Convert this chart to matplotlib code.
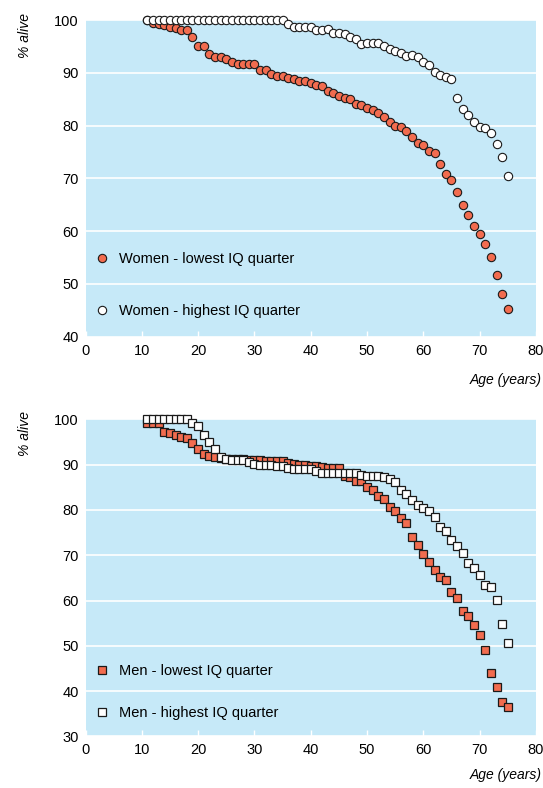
import matplotlib
matplotlib.use("Agg")
import matplotlib.pyplot as plt
import numpy as np

plt.rcParams['font.family'] = ['Liberation Sans Narrow', 'Liberation Sans', 'DejaVu Sans']

# ages 11..75, one point per year
ages = np.arange(11, 76)

women_low = [100, 99.5, 99.3, 99.0, 98.7, 98.4, 98.2, 98.2, 96.8, 95.0,
             95.0, 93.5, 93.0, 93.0, 92.7, 92.0, 91.6, 91.6, 91.7, 91.6,
             90.6, 90.6, 89.7, 89.4, 89.4, 89.1, 88.9, 88.4, 88.4, 88.0,
             87.7, 87.5, 86.6, 86.1, 85.6, 85.3, 85.0, 84.0, 83.9, 83.3,
             82.9, 82.4, 81.6, 80.7, 80.0, 79.8, 79.0, 77.9, 76.7, 76.3,
             75.2, 74.8, 72.8, 70.8, 69.6, 67.5, 64.9, 63.0, 61.0, 59.5,
             57.6, 55.1, 51.7, 48.1, 45.2]

women_high = [100] * 25 + [
             99.2, 98.7, 98.6, 98.6, 98.6, 98.2, 98.2, 98.3, 97.6, 97.6,
             97.3, 96.7, 96.4, 95.5, 95.6, 95.6, 95.7, 95.1, 94.5, 94.1,
             93.8, 93.2, 93.4, 92.9, 92.0, 91.4, 90.2, 89.6, 89.2, 88.8,
             85.2, 83.1, 82.0, 80.7, 79.8, 79.5, 78.5, 76.6, 74.0, 70.4]

men_low = [99.1, 99.1, 99.1, 97.3, 96.9, 96.5, 96.2, 95.8, 94.7, 93.5,
           92.3, 92.0, 91.6, 91.5, 91.3, 91.3, 91.2, 91.2, 91.1, 91.0,
           91.0, 90.9, 90.9, 90.9, 90.9, 90.3, 90.1, 89.9, 89.9, 89.8,
           89.7, 89.4, 89.3, 89.2, 89.2, 87.5, 87.2, 86.5, 86.5, 85.0,
           84.4, 83.1, 82.5, 80.7, 79.8, 78.3, 77.2, 74.1, 72.3, 70.3,
           68.6, 66.8, 65.3, 64.5, 62.0, 60.6, 57.8, 56.5, 54.5, 52.5,
           49.0, 44.1, 41.0, 37.5, 36.5]

men_high = [100, 100, 100, 100, 100, 100, 100, 100, 99.1, 98.5,
            96.6, 94.9, 93.5, 91.8, 91.3, 91.0, 91.0, 91.0, 90.5, 90.2,
            89.9, 89.9, 89.9, 89.6, 89.6, 89.2, 89.0, 89.0, 89.0, 89.0,
            88.5, 88.2, 88.2, 88.2, 88.2, 88.2, 88.2, 88.1, 87.7, 87.6,
            87.6, 87.6, 87.2, 86.8, 86.2, 84.4, 83.5, 82.2, 81.1, 80.4,
            79.8, 78.5, 76.3, 75.4, 73.4, 72.1, 70.4, 68.2, 67.3, 65.7,
            63.4, 62.9, 60.1, 54.9, 50.7]

red = '#f26c4f'
bg = '#c6e9f8'
edge = '#1a1a1a'

fig = plt.figure(figsize=(5.43, 7.88), dpi=100)
ax1 = fig.add_axes([0.1575, 0.5727, 0.8295, 0.4019])
ax2 = fig.add_axes([0.1575, 0.0654, 0.8295, 0.4024])


def style(ax, ymin, label_y):
    ax.set_facecolor(bg)
    for s in ax.spines.values():
        s.set_visible(False)
    ax.set_xlim(0, 80)
    ax.set_ylim(ymin, 100)
    ax.set_xticks(range(0, 81, 10))
    ax.set_yticks(range(ymin, 101, 10))
    ax.grid(axis='y', color='white', linewidth=1.2)
    ax.set_axisbelow(True)
    ax.tick_params(axis='x', direction='in', color='white', length=4, width=1,
                   labelsize=10.5, pad=5)
    ax.tick_params(axis='y', length=0, labelsize=10.5, pad=5)
    fig.text(0.046, label_y, '% alive', rotation=90, ha='center', va='top',
             style='italic', fontsize=10)


style(ax1, 40, 0.984)
style(ax2, 30, 0.479)

ax1.plot(ages, women_low, 'o', ms=6, mfc=red, mec=edge, mew=0.8,
         clip_on=False, label='Women - lowest IQ quarter')
ax1.plot(ages, women_high, 'o', ms=6, mfc='white', mec=edge, mew=0.8,
         clip_on=False, label='Women - highest IQ quarter')

ax2.plot(ages, men_low, 's', ms=5.2, mfc=red, mec=edge, mew=0.9,
         clip_on=False, label='Men - lowest IQ quarter')
ax2.plot(ages, men_high, 's', ms=5.2, mfc='white', mec=edge, mew=0.9,
         clip_on=False, label='Men - highest IQ quarter')

ax1.legend(loc='center left', bbox_to_anchor=(0.02, 0.163), frameon=False,
           fontsize=10.5, borderpad=0, borderaxespad=0, handlelength=1.0,
           handletextpad=0.7, labelspacing=2.64, numpoints=1)
ax2.legend(loc='center left', bbox_to_anchor=(0.02, 0.14), frameon=False,
           fontsize=10.5, borderpad=0, borderaxespad=0, handlelength=1.0,
           handletextpad=0.7, labelspacing=1.95, numpoints=1)

fig.text(0.998, 0.518, 'Age (years)', ha='right', va='center',
         style='italic', fontsize=10)
fig.text(0.998, 0.016, 'Age (years)', ha='right', va='center',
         style='italic', fontsize=10)

fig.savefig('out.png', dpi=100)
